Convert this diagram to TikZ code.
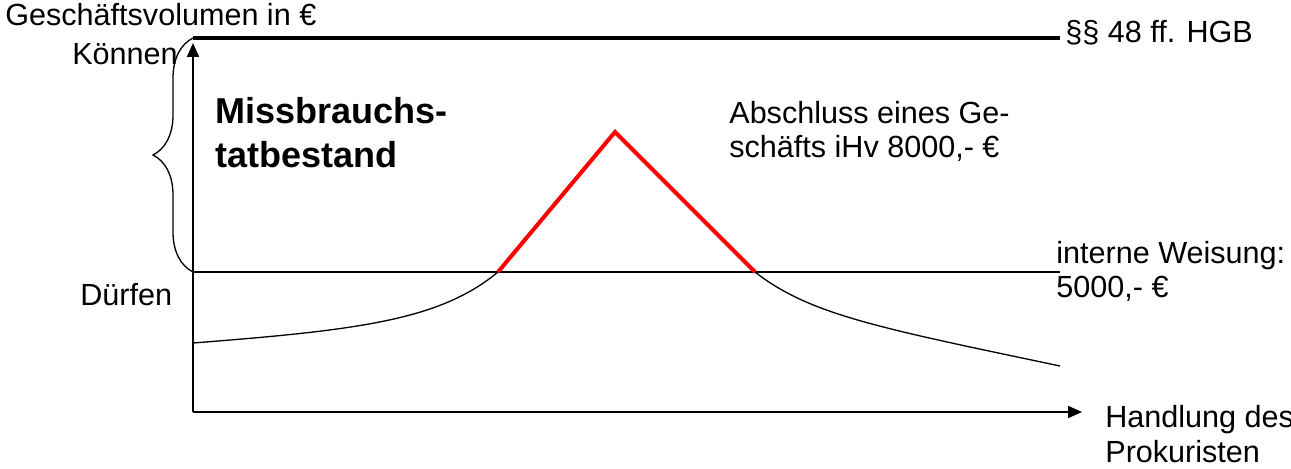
\documentclass[tikz,border=0pt]{standalone}
\usepackage{fontspec}
\setmainfont{Liberation Sans}
\usepackage{tikz}
\usetikzlibrary{arrows.meta,decorations.pathreplacing}

\begin{document}
\begin{tikzpicture}[
    x=0.02cm, y=-0.02cm,
    txt/.style={anchor=base west, inner sep=0pt, align=left, font=\fontsize{17.4}{19.9}\selectfont},
    boldtxt/.style={txt, font=\fontsize{20.5}{25.6}\selectfont\bfseries},
    axis/.style={line width=1.1pt, -{Triangle[length=0.28cm, width=0.24cm]}},
    thinline/.style={line width=0.75pt},
    excess/.style={line width=2.3pt, red, line join=miter}
  ]
    \useasboundingbox (0,0) rectangle (1291,469);

    % Axes
    \coordinate (origin) at (193,412);
    \coordinate (ytop) at (193,43);
    \coordinate (xend) at (1082,412);
    \draw[axis] (origin) -- (ytop);
    \draw[axis] (origin) -- (xend);

    % Limits: external power and internal instruction
    \coordinate (hgbstart) at (193,38);
    \coordinate (hgbend) at (1060,38);
    \draw[line width=2.3pt] (hgbstart) -- (hgbend);
    \coordinate (limitstart) at (193,272);
    \coordinate (limitend) at (1060,272);
    \draw[thinline] (limitstart) -- (limitend);

    % Brace from Duerfen up to Koennen
    \draw[thinline, decorate, decoration={brace, amplitude=0.8cm, aspect=0.5}] (limitstart) -- (hgbstart);

    % Course of the business volume
    \coordinate (left) at (193,343);
    \coordinate (cutin) at (498,272);
    \coordinate (peak) at (615,132);
    \coordinate (cutout) at (755,272);
    \coordinate (right) at (1060,366);
    \draw[thinline] (left) .. controls (360,330) and (440,320) .. (cutin);
    \draw[thinline] (cutout) .. controls (810,315) and (880,328) .. (right);
    \draw[excess] (cutin) -- (peak) -- (cutout);

    % Labels (multi-line: placed at the baseline of the last line)
    \node (yaxis) at (5,26) [txt] {Geschäftsvolumen in €};
    \node (koennen) at (72,65) [txt] {Können};
    \node (duerfen) at (80,306) [txt] {Dürfen};
    \node (hgb) at (1065,43) [txt] {§§ 48 ff. HGB};
    \node (weisung) at (1056,298) [txt] {interne Weisung:\\5000,- €};
    \node (geschaeft) at (729,158) [txt] {Abschluss eines Ge-\\schäfts iHv 8000,- €};
    \node (missbrauch) at (215,168) [boldtxt] {Missbrauchs-\\tatbestand};
    \node (xaxis) at (1105,462) [txt] {Handlung des\\Prokuristen};
  \end{tikzpicture}
\end{document}
